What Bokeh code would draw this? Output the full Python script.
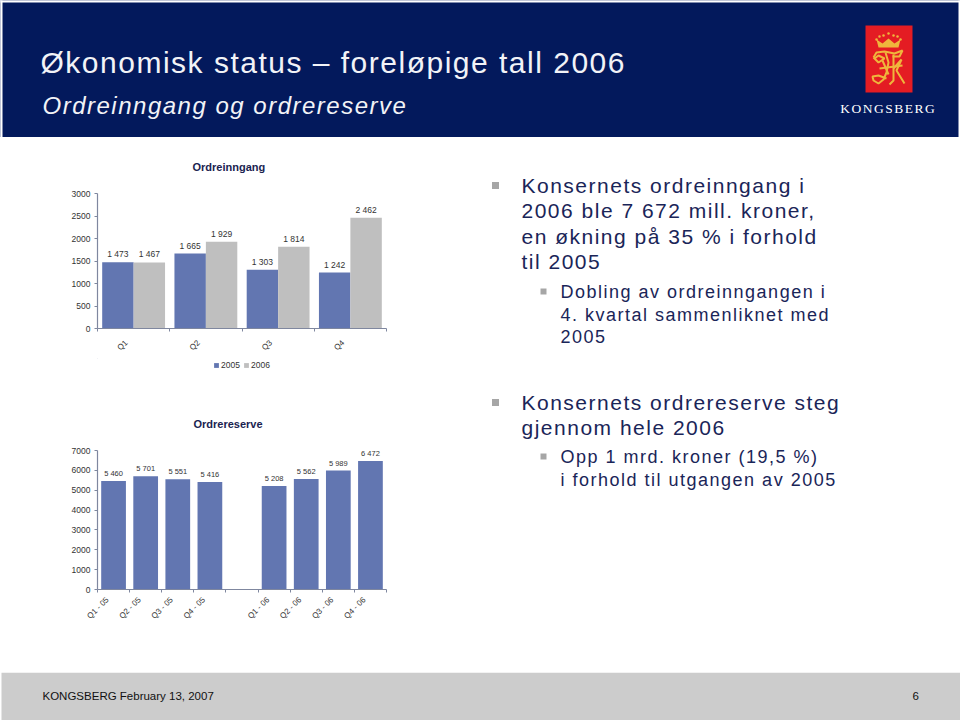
from math import pi
from bokeh.plotting import figure
from bokeh.layouts import column, row
from bokeh.models import (Range1d, FixedTicker, Legend, LegendItem, Title, ColumnDataSource, LabelSet)
from bokeh.core.properties import value
from bokeh.embed import file_html
from bokeh.resources import INLINE

# ---- data
quarters = ["Q1", "Q2", "Q3", "Q4"]
series_names = ["2005", "2006"]
orders_2005 = [1473, 1665, 1303, 1242]
orders_2006 = [1467, 1929, 1814, 2462]
backlog_labels = ["Q1 - 05", "Q2 - 05", "Q3 - 05", "Q4 - 05", "", "Q1 - 06", "Q2 - 06", "Q3 - 06", "Q4 - 06"]
backlog_values = [5460, 5701, 5551, 5416, None, 5208, 5562, 5989, 6472]
orders_ticks = [0, 500, 1000, 1500, 2000, 2500, 3000]
backlog_ticks = [0, 1000, 2000, 3000, 4000, 5000, 6000, 7000]

page_title = "Økonomisk status – foreløpige tall 2006"
page_subtitle = "Ordreinngang og ordrereserve"
main_lines = [("Konsernets ordreinngang i", 48), ("2006 ble 7 672 mill. kroner,", 73),
              ("en økning på 35 % i forhold", 99), ("til 2005", 124)]
sub_lines = [("Dobling av ordreinngangen i", 154), ("4. kvartal sammenliknet med", 177), ("2005", 199)]
main_lines2 = [("Konsernets ordrereserve steg", 265), ("gjennom hele 2006", 290)]
sub_lines2 = [("Opp 1 mrd. kroner (19,5 %)", 319), ("i forhold til utgangen av 2005", 342)]
footer_left = "KONGSBERG February 13, 2007"
footer_right = "6"

NAVY = "#03195c"
TEXT = "#1a2558"
BLUE = "#6276b1"
GREY = "#bfbfbf"
AXIS = "#7f879f"
TICKTEXT = "#333333"
FONT = "Liberation Sans"
GOLD = "#efb63c"


def spaced(n):
    return f"{n:,}".replace(",", " ")


def px_fig(w, h, x0=0, bg="white"):
    p = figure(width=w, height=h, x_range=Range1d(x0, x0 + w), y_range=Range1d(h, 0),
               output_backend="svg", toolbar_location=None, min_border=0,
               outline_line_color=None, border_fill_color=bg,
               background_fill_color=bg)
    p.axis.visible = False
    p.grid.visible = False
    return p


def chart_fig(w, h, xmax, ymax, yticks, labels, shift, lstandoff, title, tstandoff, toffset, bl, br, bt, bb):
    p = figure(width=w, height=h, x_range=Range1d(0, xmax), y_range=Range1d(0, ymax),
               output_backend="svg", toolbar_location=None, outline_line_color=None,
               min_border_left=bl, min_border_right=br, min_border_top=bt, min_border_bottom=bb)
    p.grid.visible = False
    p.yaxis.ticker = FixedTicker(ticks=yticks)
    p.xaxis.ticker = FixedTicker(ticks=[i + 0.5 - shift for i in range(xmax)],
                                 minor_ticks=list(range(xmax + 1)))
    p.xaxis.major_label_overrides = {i + 0.5 - shift: labels[i] for i in range(xmax)}
    p.xaxis.major_label_orientation = pi / 4
    p.xaxis.major_tick_line_color = None
    p.xaxis.minor_tick_in = 0
    p.xaxis.minor_tick_out = 3
    p.xaxis.minor_tick_line_color = AXIS
    p.xaxis.major_label_standoff = lstandoff
    p.yaxis.major_tick_in = 0
    p.yaxis.major_tick_out = 3
    p.yaxis.minor_tick_line_color = None
    p.yaxis.major_tick_line_color = AXIS
    p.yaxis.major_label_standoff = 4
    for ax in (p.xaxis[0], p.yaxis[0]):
        ax.axis_line_color = AXIS
        ax.axis_line_width = 1.2
        ax.major_label_text_font = FONT
        ax.major_label_text_font_size = "8.5px"
        ax.major_label_text_color = TICKTEXT
    p.xaxis.major_label_text_font_size = "8px"
    p.add_layout(Title(text=title, align="left", offset=toffset, standoff=tstandoff,
                       text_font=FONT, text_font_size="11px", text_font_style="bold",
                       text_color="#1a2350"), "above")
    return p


# ---- header: one figure, so that no seam shows in the band
header = px_fig(960, 137, bg=NAVY)
header.styles = {"letter-spacing": "1.5px"}
header.quad(left=[-5, -5, 958], right=[970, 2, 970], top=[-5, -5, -5], bottom=[2, 140, 140],
            fill_color="white", line_color=None)
header.text(x=[40], y=[62], text=[page_title], text_font=value(FONT), text_font_size="30px",
            text_color="#f2f3f7", text_baseline="middle")
header.text(x=[42], y=[105], text=[page_subtitle], text_font=value(FONT), text_font_size="24px",
            text_font_style="italic", text_color="#f2f3f7", text_baseline="middle")
# logo
header.quad(left=[865], right=[912], top=[25], bottom=[92], fill_color="#e41c23", line_color=None)
header.patch(x=[878, 876, 882, 888, 894, 900, 898], y=[47, 39, 43, 38, 43, 39, 47],
             fill_color=GOLD, line_color=None)
header.scatter(x=[876, 879, 883, 888, 893, 897, 900], y=[39, 36, 35, 33, 35, 36, 39], size=2.5,
               fill_color=GOLD, line_color=None)
header.multi_line(
    xs=[[873, 876, 884, 894, 902, 899, 892], [873, 878, 884, 878, 874],
        [885, 888, 886, 883, 878, 873, 872, 878, 886],
        [893, 893, 893, 889], [893, 901, 896, 904], [879, 902], [882, 888]],
    ys=[[57, 52, 51, 53, 50, 56, 56], [57, 62, 58, 55, 58],
        [52, 62, 72, 79, 83, 80, 76, 75, 78],
        [54, 66, 80, 84], [68, 59, 70, 83], [68, 65], [60, 74]],
    line_color=GOLD, line_width=2)
header.text(x=[881], y=[108], text=["KONGSBERG"], text_font=value("Liberation Serif"),
            text_font_size="13.5px", text_color="#ffffff", text_align="center",
            text_baseline="middle")

# ---- orders chart
p1 = chart_fig(400, 221, 4, 3000, orders_ticks, quarters, 0.1, 7, "Ordreinngang", 42, 95, 97, 14, 56, 29)
BW = 0.435
centers = [i + 0.5 for i in range(4)]
src1 = ColumnDataSource(dict(x=[c - BW / 2 for c in centers], top=orders_2005,
                             lab=[spaced(v) for v in orders_2005]))
src2 = ColumnDataSource(dict(x=[c + BW / 2 for c in centers], top=orders_2006,
                             lab=[spaced(v) for v in orders_2006]))
p1.vbar(x="x", top="top", width=BW, source=src1, fill_color=BLUE, line_color=None)
p1.vbar(x="x", top="top", width=BW, source=src2, fill_color=GREY, line_color=None)
for s in (src1, src2):
    p1.add_layout(LabelSet(x="x", y="top", text="lab", source=s, text_font=value(FONT),
                           text_font_size="8.5px", text_color=TICKTEXT, text_align="center",
                           text_baseline="bottom", y_offset=3))

# legend strip below the orders chart (proxy bars lie outside its range)
p_leg = px_fig(400, 27)
e1 = p_leg.vbar(x=[-50], top=[-50], bottom=[-60], width=1, fill_color=BLUE, line_color=None)
e2 = p_leg.vbar(x=[-50], top=[-50], bottom=[-60], width=1, fill_color=GREY, line_color=None)
leg = Legend(items=[LegendItem(label=series_names[0], renderers=[e1]),
                    LegendItem(label=series_names[1], renderers=[e2])],
             orientation="horizontal", location=(116, 15), border_line_color=None,
             background_fill_alpha=0, label_text_font=FONT, label_text_font_size="8.5px",
             label_text_color=TICKTEXT, glyph_width=6, glyph_height=6, spacing=2,
             label_standoff=2, padding=0, margin=0)
p_leg.add_layout(leg, "center")

# ---- backlog chart
p2 = chart_fig(400, 287, 9, 7000, backlog_ticks, backlog_labels, 0.19, 3, "Ordrereserve", 42, 96, 97, 13, 65, 83)
idx = [i for i, v in enumerate(backlog_values) if v is not None]
src3 = ColumnDataSource(dict(x=[i + 0.5 for i in idx], top=[backlog_values[i] for i in idx],
                             lab=[spaced(backlog_values[i]) for i in idx]))
p2.vbar(x="x", top="top", width=0.77, source=src3, fill_color=BLUE, line_color=None)
p2.add_layout(LabelSet(x="x", y="top", text="lab", source=src3, text_font=value(FONT),
                       text_font_size="7.5px", text_color=TICKTEXT, text_align="center",
                       text_baseline="bottom", y_offset=3))

# ---- bullet text
tx = px_fig(560, 535)
tx.styles = {"letter-spacing": "1.5px"}
for lines, x, size in ((main_lines, 121, "21px"), (main_lines2, 121, "21px"),
                       (sub_lines, 160, "18px"), (sub_lines2, 160, "18px")):
    tx.text(x=[x] * len(lines), y=[l[1] for l in lines], text=[l[0] for l in lines],
            text_font=value(FONT), text_font_size=size, text_color=TEXT, text_baseline="middle")
tx.scatter(x=[95, 95], y=[main_lines[0][1], main_lines2[0][1]], marker="square", size=7,
           fill_color="#a6a6a6", line_color=None)
tx.scatter(x=[143, 143], y=[sub_lines[0][1], sub_lines2[0][1]], marker="square", size=6,
           fill_color="#a6a6a6", line_color=None)

# ---- footer
foot = px_fig(960, 48)
foot.quad(left=[1], right=[960], top=[0], bottom=[48], fill_color="#cccccc", line_color=None)
foot.text(x=[42], y=[23], text=[footer_left], text_font=value(FONT), text_font_size="11.5px",
          text_color="#111111", text_baseline="middle")
foot.text(x=[912], y=[23], text=[footer_right], text_font=value(FONT), text_font_size="11.5px",
          text_color="#111111", text_baseline="middle")

page = column(header, row(column(p1, p_leg, p2, spacing=0), tx, spacing=0), foot, spacing=0)
open("out.html", "w").write(file_html(page, INLINE))
